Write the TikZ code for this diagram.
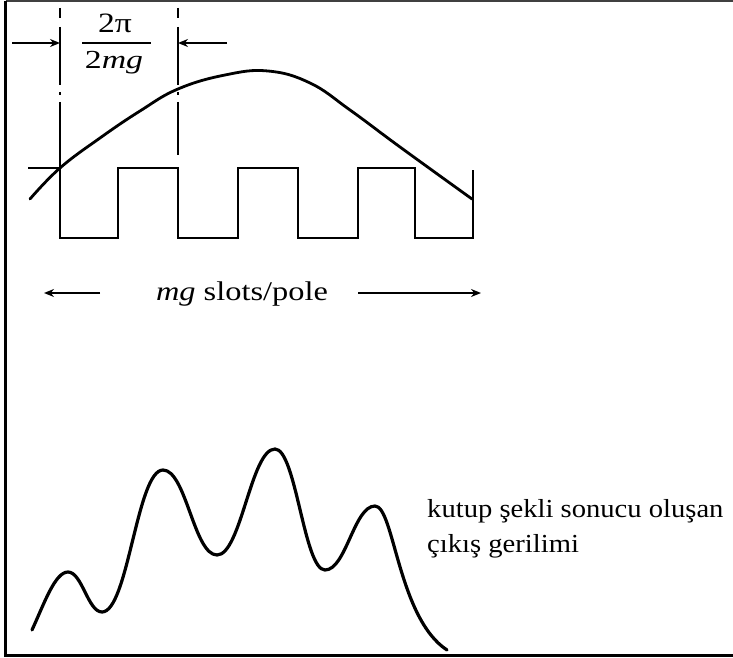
\documentclass[tikz,border=0pt]{standalone}
\usepackage{fontspec}
\setmainfont{Liberation Serif}
\usetikzlibrary{arrows.meta}
\tikzset{
  wave/.style={line width=2.8pt, line join=round, line cap=round},
  sq/.style={line width=2.5pt, line join=miter},
  dimline/.style={line width=2pt, dash pattern=on 10pt off 9pt on 58pt off 7pt on 3pt off 7pt on 80pt off 5pt},
  arr/.style={line width=1.8pt, -{Stealth[length=10pt,width=8pt]}},
  lbl/.style={inner sep=0pt, anchor=base},
}
\begin{document}
\begin{tikzpicture}[x=1pt,y=-1pt]
\useasboundingbox (0,0) rectangle (733,658);
% frame (left, top, bottom visible)
\coordinate (fTL) at (5.5,1);
\coordinate (fTR) at (733,1);
\coordinate (fBL) at (5.5,655.5);
\coordinate (fBR) at (733,655.5);
\draw[line width=2pt, black!75] (fTL) -- (fTR);
\draw[line width=3pt] (fTL) -- (fBL) -- (fBR);

% dash-dot lines
\coordinate (d1t) at (60,8);
\coordinate (d1b) at (60,168);
\coordinate (d2t) at (178,8);
\coordinate (d2b) at (178,155);
\draw[dimline] (d1t) -- (d1b);
\draw[dimline] (d2t) -- (d2b);

% dimension arrows
\coordinate (a1s) at (12,43);
\coordinate (a1e) at (60,43);
\coordinate (a2s) at (227,43);
\coordinate (a2e) at (178,43);
\draw[arr] (a1s) -- (a1e);
\draw[arr] (a2s) -- (a2e);

% fraction 2pi / 2mg
\node[lbl] (num) at (115,33) {\fontsize{28}{32}\selectfont\scalebox{1.2}[1]{2π}};
\node[lbl] (den) at (114,69) {\fontsize{26}{30}\selectfont\scalebox{1.3}[1]{2\textit{mg}}};
\coordinate (fb1) at (82,43);
\coordinate (fb2) at (151,43);
\draw[line width=1.6pt] (fb1) -- (fb2);

% square wave (slots)
\draw[sq] (28,168) -- (60,168) -- (60,238) -- (118,238) -- (118,168) -- (178,168)
  -- (178,238) -- (238,238) -- (238,168) -- (298,168) -- (298,238) -- (358,238)
  -- (358,168) -- (415,168) -- (415,238) -- (473,238) -- (473,170);

% fundamental flux wave
\draw[wave] plot[smooth, tension=0.7] coordinates {
  (30,199) (60,168) (100,138) (140,111) (178,89) (225,75) (268,71)
  (310,83) (350,110) (400,147) (472,199)};

% slots per pole
\node[lbl] (mg) at (242,300) {\fontsize{27}{32}\selectfont\scalebox{1.2}[1]{\textit{mg} slots/pole}};
\coordinate (m1s) at (100,293);
\coordinate (m1e) at (44,293);
\coordinate (m2s) at (358,293);
\coordinate (m2e) at (481,293);
\draw[arr] (m1s) -- (m1e);
\draw[arr] (m2s) -- (m2e);

% output voltage wave
\draw[line width=3.2pt, line cap=round, line join=round]
  (32,630) .. controls (44,604) and (55,572) .. (68,572)
  .. controls (82,572) and (88,612) .. (102,612)
  .. controls (128,612) and (137,470) .. (163,470)
  .. controls (186,470) and (194,555) .. (217,555)
  .. controls (241,555) and (251,449) .. (275,449)
  .. controls (296,449) and (304,570) .. (325,570)
  .. controls (346,570) and (354,506) .. (375,506)
  .. controls (394,506) and (398,618) .. (447,650);

% caption
\node[inner sep=0pt, anchor=base west] (c1) at (427,517) {\fontsize{26}{31}\selectfont\scalebox{1.1}[1]{kutup şekli sonucu oluşan}};
\node[inner sep=0pt, anchor=base west] (c2) at (427,552) {\fontsize{26}{31}\selectfont\scalebox{1.1}[1]{çıkış gerilimi}};
\end{tikzpicture}
\end{document}
